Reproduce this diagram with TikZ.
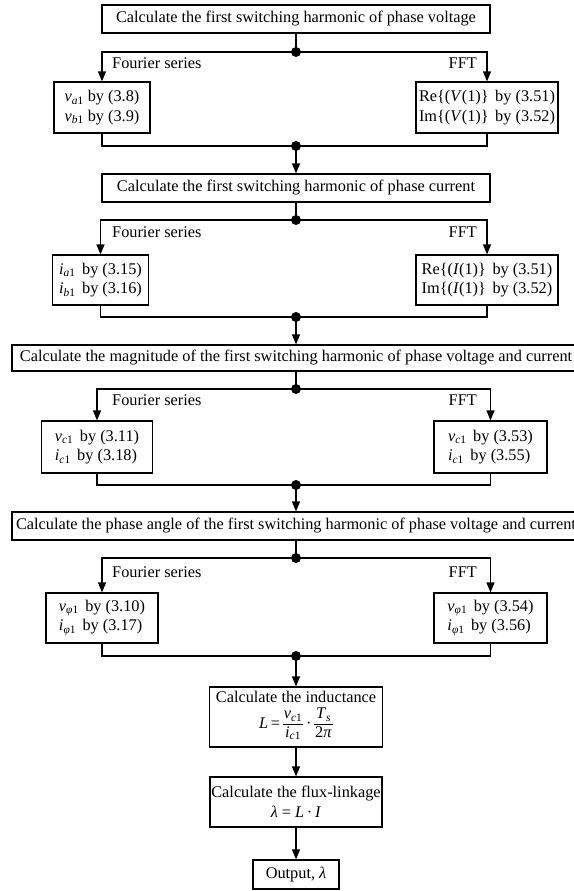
\documentclass[tikz,border=0pt]{standalone}
\usepackage{amsmath}
\usepackage{fontspec}
\setmainfont{Liberation Serif}
\usetikzlibrary{arrows.meta,backgrounds}

% italic symbol with an index, set in the text font
\newcommand{\sym}[2]{\textit{#1}\textsubscript{#2}}
% a stacked fraction built from text, numerator over denominator
\newcommand{\txfrac}[2]{\ensuremath{\vcenter{\hbox{\renewcommand{\arraystretch}{0.92}\setlength{\tabcolsep}{1pt}\begin{tabular}{c}#1\\\hline #2\end{tabular}}}}}
\newcommand{\gap}{\hspace{0.4em}}

\tikzset{
  txt/.style={font=\fontsize{16.3}{19.5}\selectfont},
  box/.style={draw, fill=white, line width=1.2pt, inner sep=0pt, align=center, txt},
  sidebox/.style={box, align=left},
  flow/.style={line width=1.2pt},
  arr/.style={flow, -{Triangle[length=10pt,width=8pt]}},
  joint/.style={fill, circle, inner sep=0pt, minimum size=10pt},
  lbl/.style={txt, inner sep=0pt},
}

\begin{document}
\begin{tikzpicture}[x=1pt,y=-1pt]
\useasboundingbox (0,0) rectangle (573,891);

% ---- boxes and labels
\node[box, minimum width=388pt, minimum height=28pt] (b1) at (296,19) {Calculate the first switching harmonic of phase voltage};
\node[joint] (j1) at (296,52) {};
\node[sidebox, minimum width=96pt, minimum height=51pt] (l1) at (102,107.5) {\sym{v}{\textit{a}1} by (3.8)\\ \sym{v}{\textit{b}1} by (3.9)};
\node[sidebox, minimum width=142pt, minimum height=51pt] (r1) at (487,107.5) {Re\{(\textit{V}(1)\}\gap by (3.51)\\ Im\{(\textit{V}(1)\}\gap by (3.52)};
\node[lbl, anchor=west] (f1) at (112,63) {Fourier series};
\node[lbl, anchor=east] (t1) at (477,63) {FFT};
\node[joint] (m1) at (296,146) {};

\node[box, minimum width=388pt, minimum height=28pt] (b2) at (296,188) {Calculate the first switching harmonic of phase current};
\node[joint] (j2) at (296,220) {};
\node[sidebox, minimum width=96pt, minimum height=50pt] (l2) at (100.5,280) {\sym{i}{\textit{a}1}\gap by (3.15)\\ \sym{i}{\textit{b}1}\gap by (3.16)};
\node[sidebox, minimum width=142pt, minimum height=50pt] (r2) at (487,280) {Re\{(\textit{I}(1)\}\gap by (3.51)\\ Im\{(\textit{I}(1)\}\gap by (3.52)};
\node[lbl, anchor=west] (f2) at (112,232) {Fourier series};
\node[lbl, anchor=east] (t2) at (477,232) {FFT};
\node[joint] (m2) at (296,317) {};

\node[box, minimum width=568pt, minimum height=26pt] (b3) at (296,358) {Calculate the magnitude of the first switching harmonic of phase voltage and current};
\node[joint] (j3) at (296,389) {};
\node[sidebox, minimum width=111pt, minimum height=52pt] (l3) at (97,447) {\sym{v}{\textit{c}1}\gap by (3.11)\\ \sym{i}{\textit{c}1}\gap by (3.18)};
\node[sidebox, minimum width=113pt, minimum height=52pt] (r3) at (490.5,447) {\sym{v}{\textit{c}1}\gap by (3.53)\\ \sym{i}{\textit{c}1}\gap by (3.55)};
\node[lbl, anchor=west] (f3) at (112,400) {Fourier series};
\node[lbl, anchor=east] (t3) at (477,400) {FFT};
\node[joint] (m3) at (296,485) {};

\node[box, minimum width=568pt, minimum height=28pt] (b4) at (296,526) {Calculate the phase angle of the first switching harmonic of phase voltage and current};
\node[joint] (j4) at (296,558) {};
\node[sidebox, minimum width=112pt, minimum height=50pt] (l4) at (102,618) {\sym{v}{\textit{φ}1}\gap by (3.10)\\ \sym{i}{\textit{φ}1}\gap by (3.17)};
\node[sidebox, minimum width=113pt, minimum height=50pt] (r4) at (490.5,618) {\sym{v}{\textit{φ}1}\gap by (3.54)\\ \sym{i}{\textit{φ}1}\gap by (3.56)};
\node[lbl, anchor=west] (f4) at (112,572) {Fourier series};
\node[lbl, anchor=east] (t4) at (477,572) {FFT};
\node[joint] (m4) at (296,656) {};

\node[box, minimum width=173pt, minimum height=60pt] (ind) at (296,717) {Calculate the inductance\\[2pt]
  \textit{L}\,=\,\txfrac{\sym{v}{\textit{c}1}}{\sym{i}{\textit{c}1}}\,·\,\txfrac{\sym{T}{\textit{s}}}{2\textit{π}}};
\node[box, minimum width=172pt, minimum height=50pt] (flx) at (296,802) {Calculate the flux-linkage\\ \textit{λ} = \textit{L}\,·\,\textit{I}};
\node[box, minimum width=86pt, minimum height=29pt] (out) at (296,874.5) {Output, \textit{λ}};

% ---- connectors, kept behind the boxes
\begin{scope}[on background layer]
\draw[flow] (b1.south) -- (j1.center);
\draw[arr] (j1.center) -| (l1.north);
\draw[arr] (j1.center) -| (r1.north);
\draw[flow] (l1.south) |- (m1.center) -| (r1.south);
\draw[arr] (m1.center) -- (b2.north);

\draw[flow] (b2.south) -- (j2.center);
\draw[arr] (j2.center) -| (l2.north);
\draw[arr] (j2.center) -| (r2.north);
\draw[flow] (l2.south) |- (m2.center) -| (r2.south);
\draw[arr] (m2.center) -- (b3.north);

\draw[flow] (b3.south) -- (j3.center);
\draw[arr] (j3.center) -| (l3.north);
\draw[arr] (j3.center) -| (r3.north);
\draw[flow] (l3.south) |- (m3.center) -| (r3.south);
\draw[arr] (m3.center) -- (b4.north);

\draw[flow] (b4.south) -- (j4.center);
\draw[arr] (j4.center) -| (l4.north);
\draw[arr] (j4.center) -| (r4.north);
\draw[flow] (l4.south) |- (m4.center) -| (r4.south);

\draw[arr] (m4.center) -- (ind.north);
\draw[arr] (ind.south) -- (flx.north);
\draw[arr] (flx.south) -- (out.north);
\end{scope}
\end{tikzpicture}
\end{document}
